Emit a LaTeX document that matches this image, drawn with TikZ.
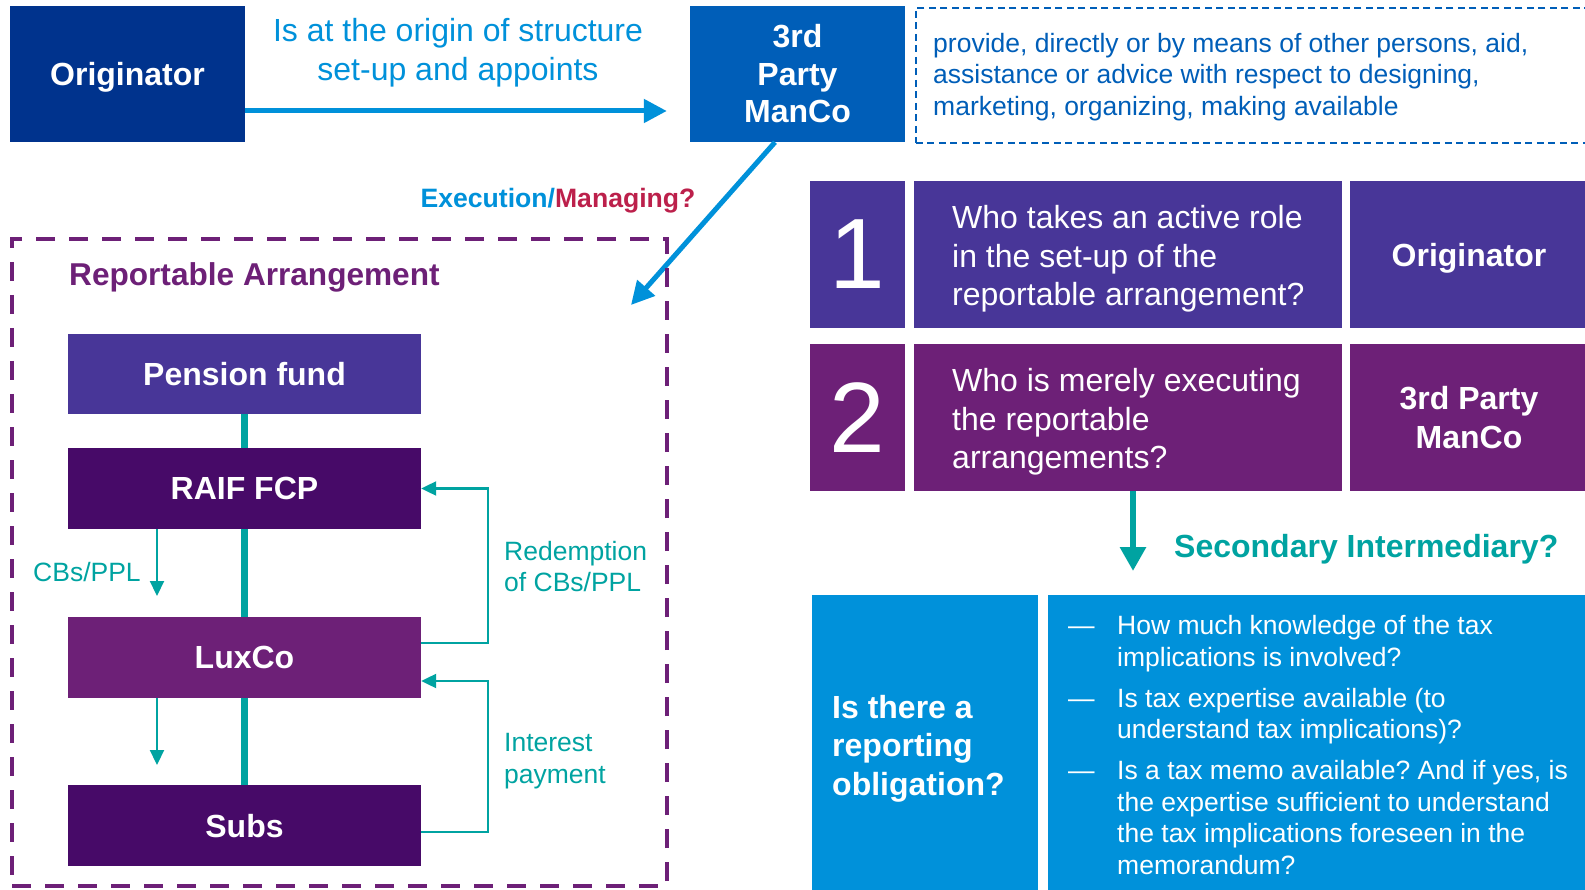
\documentclass[tikz,border=0pt]{standalone}
\usepackage{fontspec}
\setmainfont{Liberation Sans}
\usetikzlibrary{arrows.meta}

\definecolor{kdark}{HTML}{00338D}
\definecolor{kmed}{HTML}{005EB8}
\definecolor{klight}{HTML}{0091DA}
\definecolor{kpurple}{HTML}{483698}
\definecolor{kviolet}{HTML}{470A68}
\definecolor{kplum}{HTML}{6D2077}
\definecolor{kteal}{HTML}{00A3A1}
\definecolor{kred}{HTML}{BC204B}

\newcommand{\fsz}[2]{\fontsize{#1}{#2}\selectfont}

\begin{document}
\frenchspacing
\begin{tikzpicture}[x=1pt,y=-1pt,
  cell/.style={fill=#1, draw=none, text=white, inner sep=0pt, align=center},
  onecell/.style={cell=#1, text depth=0pt},
  txt/.style={inner sep=0pt, text=white},
  headfont/.style={font=\bfseries\fsz{32}{38.5}},
  plainfont/.style={font=\fsz{32}{38.5}},
  smallfont/.style={font=\fsz{26.5}{31.8}},
  labelfont/.style={font=\fsz{26.5}{31.8}},
  bigarrow/.style={klight, line width=5pt, -{Triangle[length=23pt,width=23pt]}},
  thinarrow/.style={kteal, line width=2.2pt, -{Triangle[length=15pt,width=14pt]}},
  trunk/.style={kteal, line width=7pt},
  lbl/.style={inner sep=0pt, anchor=west, align=left}
]
\useasboundingbox (0,0) rectangle (1585,890);

% --- top row: originator, manager, description
\node[onecell=kdark, minimum width=235pt, minimum height=136pt, headfont] (orig) at (127.5,74) {Originator};
\node[cell=kmed, minimum width=215pt, minimum height=136pt, font=\bfseries\fsz{32}{37.5}] (manco) at (797.5,74) {3rd\\Party\\ManCo};
\node[draw=kmed, line width=1.8pt, dash pattern=on 7pt off 4.5pt, anchor=north west,
      minimum width=690pt, minimum height=135pt, inner sep=0pt] (desc) at (915,7) {};
\node[lbl, text=kmed, smallfont] (desctext) at (933,77)
  {provide, directly or by means of other persons, aid,\\assistance or advice with respect to designing,\\marketing, organizing, making available};

\node[text=klight, font=\fsz{32}{38.5}, align=center, inner sep=0pt] (appoint) at (458,52.5)
  {Is at the origin of structure\\set-up and appoints};
\draw[bigarrow, shorten >=23pt] ([yshift=-37pt]orig.east) -- ([yshift=-37pt]manco.west);

\node[font=\bfseries\fsz{26.6}{31}, inner sep=0pt] (exec) at (558,201)
  {\textcolor{klight}{Execution/}\textcolor{kred}{Managing?}};
\coordinate (ratip) at (631,305);
\draw[bigarrow] ([xshift=-22.5pt]manco.south) -- (ratip);

% --- reportable arrangement
\node[draw=kplum, line width=4pt, dash pattern=on 19pt off 14pt, minimum width=655pt,
      minimum height=647pt, inner sep=0pt] (ra) at (339.5,562.5) {};
\node[lbl, text=kplum, font=\bfseries\fsz{31.6}{36}] (ratitle) at (69,277) {Reportable Arrangement};

\node[onecell=kpurple, minimum width=353pt, minimum height=80pt, headfont] (pf) at (244.5,374) {Pension fund};
\node[onecell=kviolet, minimum width=353pt, minimum height=81pt, headfont] (raif) at (244.5,488.5) {RAIF FCP};
\node[onecell=kplum, minimum width=353pt, minimum height=81pt, headfont] (luxco) at (244.5,657.5) {LuxCo};
\node[onecell=kviolet, minimum width=353pt, minimum height=81pt, headfont] (subs) at (244.5,825.5) {Subs};

\draw[trunk] (pf) -- (raif);
\draw[trunk] (raif) -- (luxco);
\draw[trunk] (luxco) -- (subs);

\coordinate (cb1) at (157,596);
\coordinate (cb2) at (157,765);
\draw[thinarrow] (raif.south -| cb1) -- (cb1);
\draw[thinarrow] (luxco.south -| cb2) -- (cb2);
\node[lbl, text=kteal, labelfont] (cblbl) at (33,572) {CBs/PPL};

\draw[thinarrow] ([yshift=14.5pt]luxco.east) -- ++(67,0) |- (raif.east);
\draw[thinarrow] ([yshift=-6.5pt]subs.east) -- ++(67,0) |- ([yshift=-23.5pt]luxco.east);
\node[lbl, text=kteal, labelfont] (redlbl) at (504,566.5) {Redemption\\of CBs/PPL};
\node[lbl, text=kteal, labelfont] (intlbl) at (504,761) {Interest\\payment};

% --- question grid
\node[cell=kpurple, minimum width=95pt, minimum height=147pt, font=\fsz{100}{100}] (n1) at (857.5,254.5) {1};
\node[cell=kpurple, minimum width=428pt, minimum height=147pt] (q1) at (1128,254.5) {};
\node[lbl, txt, plainfont] (q1text) at (952,259) {Who takes an active role\\in the set-up of the\\reportable arrangement?};
\node[onecell=kpurple, minimum width=238pt, minimum height=147pt, headfont] (a1) at (1469,254.5) {Originator};

\node[cell=kplum, minimum width=95pt, minimum height=147pt, font=\fsz{100}{100}] (n2) at (857.5,417.5) {2};
\node[cell=kplum, minimum width=428pt, minimum height=147pt] (q2) at (1128,417.5) {};
\node[lbl, txt, plainfont] (q2text) at (952,422) {Who is merely executing\\the reportable\\arrangements?};
\node[cell=kplum, minimum width=238pt, minimum height=147pt, headfont] (a2) at (1469,417.5) {3rd Party\\ManCo};

\coordinate (sitip) at (1133,571);
\draw[kteal, line width=6pt, -{Triangle[length=24pt,width=25pt]}] (q2.south -| sitip) -- (sitip);
\node[lbl, text=kteal, headfont] (silbl) at (1174,549) {Secondary Intermediary?};

% --- reporting obligation
\node[cell=klight, minimum width=226pt, minimum height=300pt] (oblig) at (925,745) {};
\node[lbl, txt, headfont] (obligtext) at (832,748.5) {Is there a\\reporting\\obligation?};
\node[cell=klight, minimum width=542pt, minimum height=300pt] (crit) at (1319,745) {};
\node[lbl, txt, smallfont] (crittext) at (1068,748.5)
  {\begin{tabular}{@{}p{49pt}@{}l@{}}
   — & How much knowledge of the tax\\
     & implications is involved?\\[8.6pt]
   — & Is tax expertise available (to\\
     & understand tax implications)?\\[8.6pt]
   — & Is a tax memo available? And if yes, is\\
     & the expertise sufficient to understand\\
     & the tax implications foreseen in the\\
     & memorandum?
   \end{tabular}};
\end{tikzpicture}
\end{document}
